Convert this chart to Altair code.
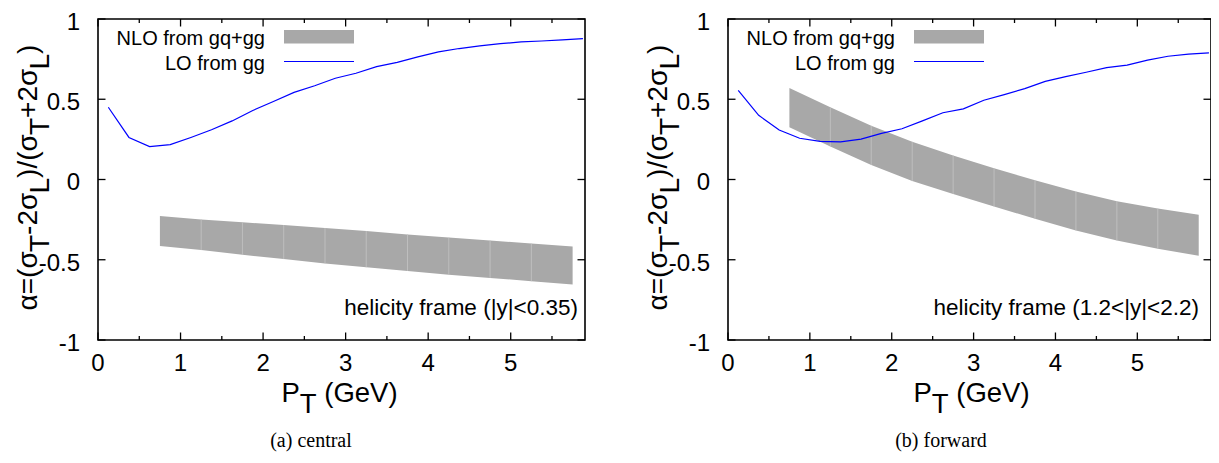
import altair as alt
import pandas as pd

# ---------------- data ----------------
PT_LO = [0.125, 0.375, 0.625, 0.875, 1.125, 1.375, 1.625, 1.875, 2.125, 2.375, 2.625, 2.875,
         3.125, 3.375, 3.625, 3.875, 4.125, 4.375, 4.625, 4.875, 5.125, 5.375, 5.625, 5.875]
LO_CENTRAL = [0.45, 0.262, 0.205, 0.217, 0.262, 0.31, 0.365, 0.43, 0.486, 0.543, 0.584, 0.631,
              0.662, 0.703, 0.73, 0.764, 0.795, 0.816, 0.832, 0.846, 0.857, 0.863, 0.870, 0.878]
LO_FORWARD = [0.555, 0.40, 0.308, 0.257, 0.237, 0.234, 0.252, 0.287, 0.316, 0.365, 0.416, 0.44,
              0.494, 0.529, 0.566, 0.611, 0.641, 0.668, 0.697, 0.713, 0.744, 0.768, 0.781, 0.789]

PT_NLO = [0.75, 1.25, 1.75, 2.25, 2.75, 3.25, 3.75, 4.25, 4.75, 5.25, 5.75]
NLO_CENTRAL_HI = [-0.228, -0.249, -0.267, -0.284, -0.302, -0.321, -0.342, -0.362, -0.38, -0.399, -0.418]
NLO_CENTRAL_LO = [-0.414, -0.44, -0.469, -0.496, -0.523, -0.547, -0.57, -0.593, -0.613, -0.634, -0.654]
NLO_FORWARD_HI = [0.57, 0.45, 0.335, 0.235, 0.15, 0.07, -0.005, -0.075, -0.135, -0.18, -0.22]
NLO_FORWARD_LO = [0.325, 0.205, 0.09, -0.01, -0.09, -0.168, -0.245, -0.317, -0.38, -0.432, -0.475]

XT_MAJOR = [0, 1, 2, 3, 4, 5]
XT_LABELS = ["0", "1", "2", "3", "4", "5"]
XT_MINOR = [0.5, 1.5, 2.5, 3.5, 4.5, 5.5]
YT = [-1, -0.5, 0, 0.5, 1]
YT_LABELS = ["-1", "-0.5", "0", "0.5", "1"]

LEGEND_NLO = "NLO from gq+gg"
LEGEND_LO = "LO from gg"
FRAME_CENTRAL = "helicity frame (|y|<0.35)"
FRAME_FORWARD = "helicity frame (1.2<|y|<2.2)"
CAPTION_CENTRAL = "(a) central"
CAPTION_FORWARD = "(b) forward"
YTITLE_PIECES = [("α=(σ", False), ("T", True), ("-2σ", False), ("L", True), (")/(σ", False),
                 ("T", True), ("+2σ", False), ("L", True), (")", False)]
XTITLE_PIECES = [("P", False), ("T", True), (" ", False), ("(GeV)", False)]

# ---------------- styling / layout ----------------
TOP = 19            # page y of the plot frame top (page margin 8 included)
BOTTOM = 340        # page y of the plot frame bottom
H = BOTTOM - TOP
SANS = "Liberation Sans, Arial, Helvetica, sans-serif"
SERIF = "Liberation Serif, Times New Roman, serif"
GRAY = "#a8a8a8"
BLUE = "#0000ff"
ONE = alt.Data(values=[{}])

# Arial advance widths (em) used to chain title pieces
EM = {"α": 0.579, "=": 0.584, "(": 0.333, ")": 0.333, "σ": 0.59, "T": 0.611, "L": 0.556,
      "-": 0.333, "+": 0.584, "2": 0.556, "/": 0.278, "P": 0.667, " ": 0.278,
      "G": 0.778, "e": 0.556, "V": 0.667}


def tw(s):
    return sum(EM[c] for c in s)


def py(page_y):
    """page y -> panel-relative y"""
    return page_y - TOP


XS = alt.Scale(domain=[0, 5.9], nice=False, zero=False)
YS = alt.Scale(domain=[-1, 1], nice=False, zero=False)


def txt(s, x, y, size, font=SANS, angle=0, align="left", baseline="alphabetic"):
    return alt.Chart(ONE).mark_text(text=s, font=font, fontSize=size, angle=angle, align=align,
                                    baseline=baseline, color="black").encode(
        x=alt.value(x), y=alt.value(y))


def tick_layers(W):
    layers = []
    for vals, ln in ((XT_MAJOR, 7.5), (XT_MINOR, 4)):
        df = pd.DataFrame({"v": vals})
        layers.append(alt.Chart(df).mark_rule(color="black", strokeWidth=1.3).encode(
            x=alt.X("v:Q", scale=XS, axis=None), y=alt.value(H), y2=alt.value(H - ln)))
        layers.append(alt.Chart(df).mark_rule(color="black", strokeWidth=1.3).encode(
            x=alt.X("v:Q", scale=XS, axis=None), y=alt.value(0), y2=alt.value(ln)))
    df = pd.DataFrame({"v": YT})
    layers.append(alt.Chart(df).mark_rule(color="black", strokeWidth=1.3).encode(
        y=alt.Y("v:Q", scale=YS, axis=None), x=alt.value(0), x2=alt.value(7.5)))
    layers.append(alt.Chart(df).mark_rule(color="black", strokeWidth=1.3).encode(
        y=alt.Y("v:Q", scale=YS, axis=None), x=alt.value(W), x2=alt.value(W - 7.5)))
    # tick labels placed through the scales
    layers.append(alt.Chart(pd.DataFrame({"v": XT_MAJOR, "t": XT_LABELS})).mark_text(
        font=SANS, fontSize=24, align="center", baseline="alphabetic", color="black").encode(
        x=alt.X("v:Q", scale=XS, axis=None), y=alt.value(py(371)), text="t:N"))
    layers.append(alt.Chart(pd.DataFrame({"v": YT, "t": YT_LABELS})).mark_text(
        font=SANS, fontSize=24, align="right", baseline="alphabetic", dy=10.8,
        color="black").encode(
        y=alt.Y("v:Q", scale=YS, axis=None), x=alt.value(-18), text="t:N"))
    return layers


def title_layers(W, xshift):
    layers = []
    F = 28
    sub_shift = 11.5
    # rotated y title, reading bottom -> top
    total = sum(tw(s) for s, _ in YTITLE_PIECES) * F
    y = py(177.5) + total / 2
    for s, sub in YTITLE_PIECES:
        layers.append(txt(s, -61 + (sub_shift if sub else 0), y, F, angle=270))
        y -= tw(s) * F
    # x title
    F = 27.5
    total = sum(tw(s) for s, _ in XTITLE_PIECES) * F
    x = W / 2 - total / 2 - 2 + xshift
    for s, sub in XTITLE_PIECES:
        if s.strip():
            layers.append(txt(s, x, py(401.5) + (sub_shift if sub else 0), F))
        x += tw(s) * F
    return layers


def panel(W, hi, lo, lo_line, frame_text, frame_right, caption, xshift):
    band_df = pd.DataFrame({"pt": PT_NLO, "lo": lo, "hi": hi})
    band = alt.Chart(band_df).mark_area(color=GRAY, opacity=1).encode(
        x=alt.X("pt:Q", scale=XS, axis=None),
        y=alt.Y("lo:Q", scale=YS, axis=None),
        y2="hi:Q")
    seams = alt.Chart(band_df.iloc[1:-1]).mark_rule(color="#c4c4c4", strokeWidth=0.8).encode(
        x=alt.X("pt:Q", scale=XS, axis=None),
        y=alt.Y("lo:Q", scale=YS, axis=None),
        y2="hi:Q")
    line = alt.Chart(pd.DataFrame({"pt": PT_LO, "a": lo_line})).mark_line(
        color=BLUE, strokeWidth=1.2).encode(
        x=alt.X("pt:Q", scale=XS, axis=None),
        y=alt.Y("a:Q", scale=YS, axis=None))
    # legend
    leg = [
        txt(LEGEND_NLO, 167, py(45), 20, align="right"),
        txt(LEGEND_LO, 167, py(70), 20, align="right"),
        alt.Chart(ONE).mark_rect(color=GRAY).encode(
            x=alt.value(186), x2=alt.value(256), y=alt.value(py(30)), y2=alt.value(py(43.5))),
        alt.Chart(ONE).mark_rule(color=BLUE, strokeWidth=1.2).encode(
            x=alt.value(186), x2=alt.value(256), y=alt.value(py(61.5))),
    ]
    ann = [
        txt(frame_text, frame_right, py(315), 22.5, align="right"),
        txt(caption, 213, py(441), 20, font=SERIF, align="center", baseline="middle"),
    ]
    layers = [band, seams, line] + tick_layers(W) + leg + ann + title_layers(W, xshift)
    return alt.layer(*layers).properties(width=W, height=H)


left = panel(487, NLO_CENTRAL_HI, NLO_CENTRAL_LO, LO_CENTRAL, FRAME_CENTRAL, 480,
             CAPTION_CENTRAL, 0)
right = panel(483, NLO_FORWARD_HI, NLO_FORWARD_LO, LO_FORWARD, FRAME_FORWARD, 471,
              CAPTION_FORWARD, 4)

chart = alt.hconcat(left, right, spacing=143, bounds="flush").properties(
    autosize=alt.AutoSizeParams(type="none"),
    padding={"left": 90, "top": TOP - 8, "right": 1113, "bottom": 447 - (TOP - 8)},
).configure_view(stroke="black", strokeWidth=1.6)

chart.save("out.html", embed_options={"renderer": "svg", "actions": False})
